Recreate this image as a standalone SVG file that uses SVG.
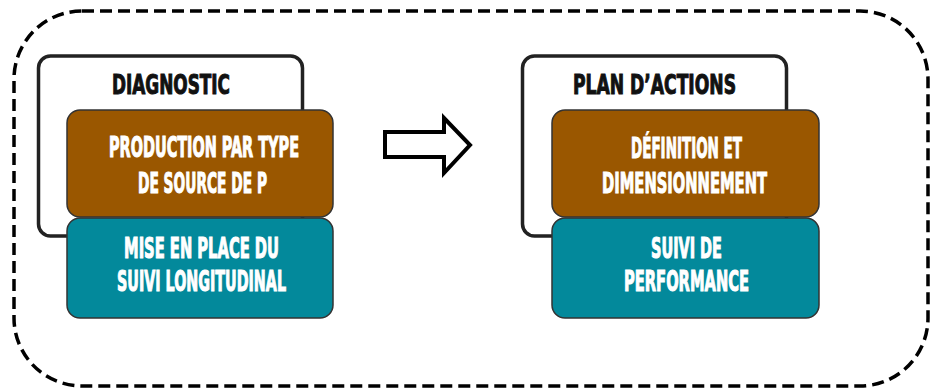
<svg xmlns="http://www.w3.org/2000/svg" width="930" height="391" viewBox="0 0 930 391">
<style>
.frame{fill:none;stroke:#000;stroke-width:3.5;stroke-dasharray:12 6}
.cont{fill:#fff;stroke:#222;stroke-width:3.5}
.brown{fill:#9A5700;stroke:#333;stroke-width:1.5}
.teal{fill:#03899B;stroke:#333;stroke-width:1.5}
.t{font-family:"DejaVu Sans Condensed","Liberation Sans Narrow","Liberation Sans",sans-serif;font-weight:bold;text-anchor:middle}
.title{font-size:26px;fill:#111;stroke:#111;stroke-width:1}
.w{font-size:29px;fill:#fff;stroke:#fff;stroke-width:1.1}
.arrow{fill:#fff;stroke:#000;stroke-width:4;stroke-linejoin:miter}
</style>
<rect width="930" height="391" fill="#fff"/>
<rect class="frame" x="14" y="11" width="914" height="375" rx="68"/>
<g id="diagnostic">
<rect class="cont" x="38.5" y="56" width="264" height="180" rx="12"/>
<text class="t title" x="171" y="94" textLength="118" lengthAdjust="spacingAndGlyphs">DIAGNOSTIC</text>
</g>
<g id="production">
<rect class="brown" x="67" y="110" width="266" height="107" rx="13"/>
<text class="t w" x="204" y="157" textLength="190" lengthAdjust="spacingAndGlyphs">PRODUCTION PAR TYPE</text>
<text class="t w" x="202.5" y="193" textLength="129" lengthAdjust="spacingAndGlyphs">DE SOURCE DE P</text>
</g>
<g id="suivi-longitudinal">
<rect class="teal" x="67" y="218" width="266" height="100" rx="13"/>
<text class="t w" x="201.5" y="258" textLength="155" lengthAdjust="spacingAndGlyphs">MISE EN PLACE DU</text>
<text class="t w" x="201.5" y="291" textLength="169" lengthAdjust="spacingAndGlyphs">SUIVI LONGITUDINAL</text>
</g>
<g id="plan-actions">
<rect class="cont" x="522.5" y="56" width="264" height="180" rx="12"/>
<text class="t title" x="654.5" y="94" textLength="163" lengthAdjust="spacingAndGlyphs">PLAN D’ACTIONS</text>
</g>
<g id="definition">
<rect class="brown" x="552" y="110" width="267" height="107" rx="13"/>
<text class="t w" x="686.5" y="158" textLength="111" lengthAdjust="spacingAndGlyphs">DÉFINITION ET</text>
<text class="t w" x="684.5" y="193" textLength="165" lengthAdjust="spacingAndGlyphs">DIMENSIONNEMENT</text>
</g>
<g id="suivi-performance">
<rect class="teal" x="552" y="218" width="267" height="100" rx="13"/>
<text class="t w" x="686.5" y="258" textLength="71" lengthAdjust="spacingAndGlyphs">SUIVI DE</text>
<text class="t w" x="686.5" y="291" textLength="125" lengthAdjust="spacingAndGlyphs">PERFORMANCE</text>
</g>
<g id="connectors">
<polygon class="arrow" points="385,132 444,132 444,118 470,145 444,173 444,157 385,157"/>
</g>
</svg>
